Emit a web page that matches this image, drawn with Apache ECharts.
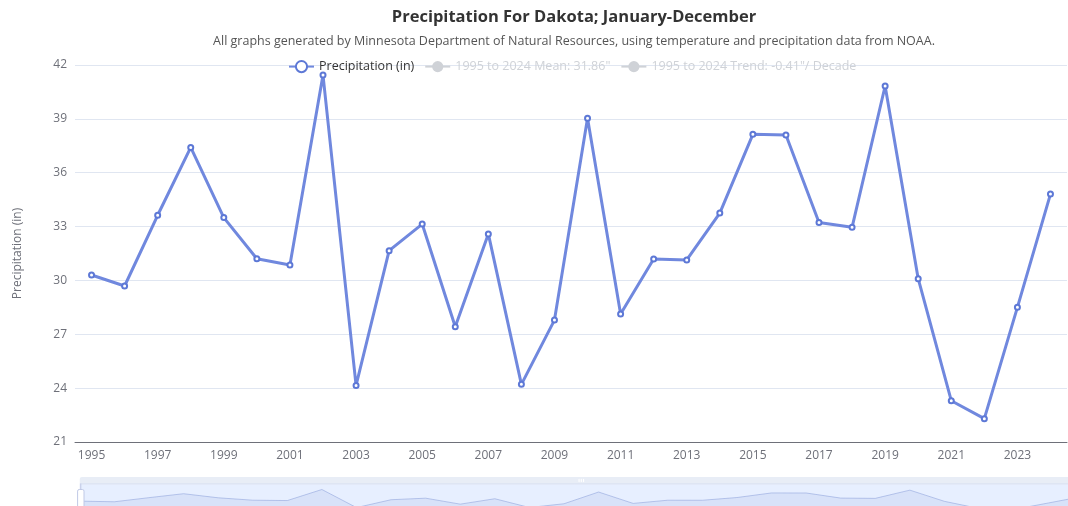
<!DOCTYPE html>
<html>
<head>
	<meta charset="utf-8">
	<title>Precipitation For Dakota</title>
	<script src="https://cdn.jsdelivr.net/npm/echarts@6/dist/echarts.min.js"></script>
	<style>
		html, body { margin: 0; padding: 0; background: #fff; }
		#container { width: 1068px; height: 506px; }
	</style>
</head>
<body>
	<div id="container"></div>
	<script type="text/javascript">
		// years and yearly precipitation (in)
		var years = ['1995','1996','1997','1998','1999','2000','2001','2002','2003','2004',
			'2005','2006','2007','2008','2009','2010','2011','2012','2013','2014',
			'2015','2016','2017','2018','2019','2020','2021','2022','2023','2024'];
		var precip = [30.30, 29.69, 33.63, 37.41, 33.50, 31.21, 30.86, 41.44, 24.15, 31.66,
			33.14, 27.42, 32.59, 24.21, 27.79, 39.03, 28.13, 31.19, 31.14, 33.75,
			38.14, 38.10, 33.23, 32.96, 40.83, 30.10, 23.30, 22.30, 28.50, 34.81];
		// hidden series (legend off)
		var meanLine = [['1995', 31.86], ['2024', 31.86]];
		var trendLine = [['1995', 32.45], ['2024', 31.27]];
		var seriesNames = ['Precipitation (in)', '1995 to 2024 Mean: 31.86"', '1995 to 2024 Trend: -0.41"/ Decade'];

		var font = '"Open Sans", "Noto Sans", sans-serif';
		var myChart = echarts.init(document.getElementById('container'));
		var sel = {};
		sel[seriesNames[1]] = false;
		sel[seriesNames[2]] = false;

		myChart.setOption({
			animation: false,
			textStyle: { fontFamily: font },
			title: {
				text: 'Precipitation For Dakota; January-December',
				subtext: 'All graphs generated by Minnesota Department of Natural Resources, using temperature and precipitation data from NOAA.',
				left: 569,
				textAlign: 'center',
				top: 4,
				itemGap: 9,
				textStyle: { fontFamily: font, fontSize: 16.5, fontWeight: 'bold', color: '#333' },
				subtextStyle: { fontFamily: font, fontSize: 12.5, color: '#555' }
			},
			legend: {
				data: seriesNames,
				selected: sel,
				left: 283,
				top: 55,
				itemGap: 10,
				textStyle: { fontFamily: font, fontSize: 12.5, color: '#333' }
			},
			grid: { left: 75, right: 1, top: 65, bottom: 64 },
			xAxis: {
				type: 'category',
				data: years,
				boundaryGap: true,
				axisTick: { interval: 1 },
				axisLabel: { interval: 1, fontSize: 12, color: '#6E7079' },
				axisLine: { lineStyle: { color: '#6E7079' } }
			},
			yAxis: {
				type: 'value',
				name: 'Precipitation (in)',
				nameLocation: 'middle',
				nameGap: 51,
				nameTextStyle: { fontSize: 12, color: '#6E7079' },
				min: 21,
				max: 42,
				interval: 3,
				axisLabel: { fontSize: 12, color: '#6E7079' },
				splitLine: { lineStyle: { color: '#E0E6F1' } }
			},
			dataZoom: [{
				type: 'slider',
				start: 0,
				end: 100,
				left: 77,
				right: -12,
				top: 477,
				height: 32,
				showDetail: false,
				moveHandleStyle: { color: '#D2DBEE', opacity: 0.5 }
			}],
			series: [
				{
					name: seriesNames[0],
					type: 'line',
					data: precip,
					symbol: 'emptyCircle',
					symbolSize: 5,
					itemStyle: { color: '#5d78d6' },
					lineStyle: { width: 3, color: '#7088de' }
				},
				{
					name: seriesNames[1],
					type: 'line',
					data: meanLine,
					symbol: 'circle'
				},
				{
					name: seriesNames[2],
					type: 'line',
					data: trendLine,
					symbol: 'circle'
				}
			]
		});
	</script>
</body>
</html>
